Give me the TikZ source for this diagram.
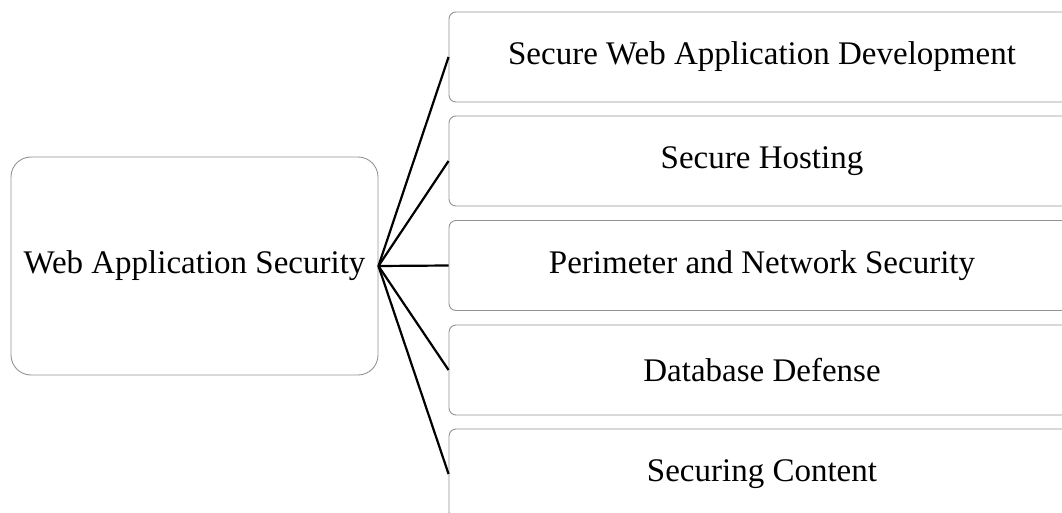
\documentclass[tikz,border=0pt]{standalone}
\usepackage{fontspec}
\setmainfont{Liberation Serif}
\usepackage{tikz}

\begin{document}
\begin{tikzpicture}[x=1pt,y=1pt,
    topic/.style={draw=gray!85, line width=0.9pt, rounded corners=20pt,
        minimum width=367pt, minimum height=218pt, inner sep=0pt,
        font=\fontsize{33}{40}\selectfont},
    area/.style={draw=gray!85, line width=0.9pt, rounded corners=7pt,
        minimum width=626pt, minimum height=90pt, inner sep=0pt,
        font=\fontsize{33}{40}\selectfont},
    link/.style={line width=2.2pt}]
    \useasboundingbox (0,0) rectangle (1062,-513);
    % 中心主题
    \node[topic] (root) at (194.5,-266) {Web Application Security};
    % 右侧分支
    \node[area] (dev) at (762,-57) {Secure Web Application Development};
    \node[area] (host) at (762,-161) {Secure Hosting};
    \node[area] (net) at (762,-265.5) {Perimeter and Network Security};
    \node[area] (db) at (762,-370) {Database Defense};
    \node[area] (content) at (762,-474) {Securing Content};
    % 连线
    \draw[link] (root.east) -- (dev.west);
    \draw[link] (root.east) -- (host.west);
    \draw[link] (root.east) -- (net.west);
    \draw[link] (root.east) -- (db.west);
    \draw[link] (root.east) -- (content.west);
\end{tikzpicture}
\end{document}
